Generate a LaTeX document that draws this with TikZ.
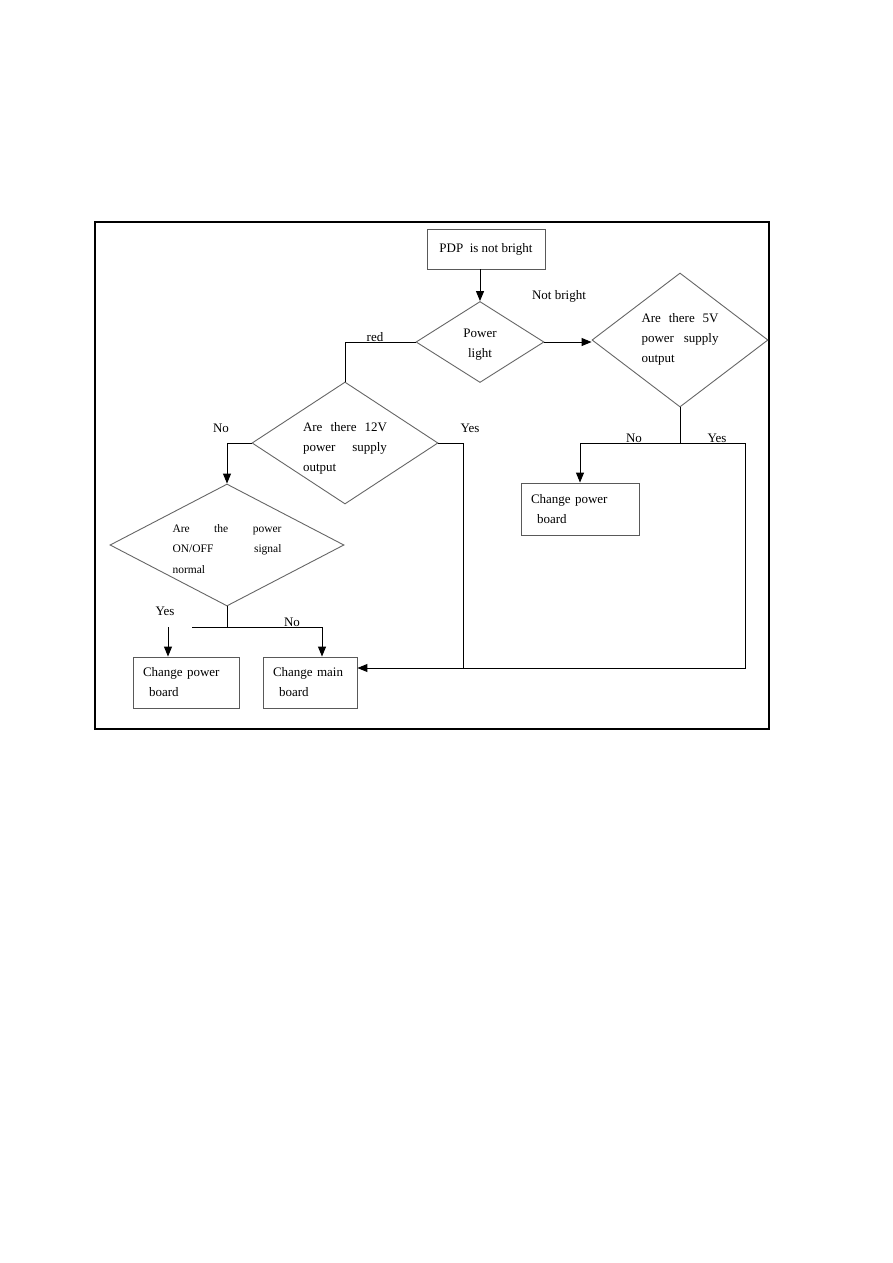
\documentclass[tikz,border=0pt]{standalone}
\usepackage{fontspec}
\setmainfont{Liberation Serif}
\usetikzlibrary{shapes.geometric,arrows.meta}
\begin{document}
\begin{tikzpicture}[x=1pt,y=-1pt,
  txt/.style={font=\fontsize{13}{20}\selectfont, inner sep=0pt},
  smalltxt/.style={font=\fontsize{11.5}{20.5}\selectfont, inner sep=0pt, align=left},
  boxnode/.style={draw=black!65, line width=0.9pt, rectangle, inner ysep=0pt,
     align=left, font=\fontsize{13}{20}\selectfont},
  dia/.style={draw=black!60, line width=0.9pt, diamond, inner sep=0pt},
  conn/.style={draw=black, line width=1pt},
  arr/.style={conn, -{Triangle[length=10pt,width=8pt]}},
  lbl/.style={font=\fontsize{13}{15}\selectfont, inner sep=0pt}
]
\useasboundingbox (0,0) rectangle (893,1263);
\fill[white] (0,0) rectangle (893,1263);
% frame
\draw[line width=1.1pt] (95,222) rectangle (769,729);

% nodes
\node[boxnode, minimum width=118pt, minimum height=40pt, align=center] (pdp) at (486,249) {PDP\ \ is not bright};
\node[dia, minimum width=128pt, minimum height=81pt] (pl) at (480,342) {};
\node[txt, align=center] at (480,345) {Power\\light};
\node[dia, minimum width=176pt, minimum height=134pt] (d5) at (680,340) {};
\node[txt, align=left] at (680,339) {\makebox[77pt][s]{Are there 5V}\\\makebox[77pt][s]{power supply}\\output};
\node[dia, minimum width=186pt, minimum height=122pt] (d12) at (345,443) {};
\node[txt, align=left] at (345,448) {\makebox[84pt][s]{Are there 12V}\\\makebox[84pt][s]{power supply}\\output};
\node[dia, minimum width=234pt, minimum height=122pt] (d3) at (227,545) {};
\node[smalltxt] at (227,549) {\makebox[109pt][s]{Are the power}\\\makebox[109pt][s]{ON/OFF signal}\\normal};

\node[boxnode, minimum height=52pt, inner xsep=10pt, text width=98pt] (b1) at (580,509) {Change power\\\hspace*{6pt}board};
\node[boxnode, minimum height=51pt, inner xsep=10pt, text width=86pt] (b3) at (186,682.5) {Change power\\\hspace*{6pt}board};
\node[boxnode, minimum height=51pt, inner xsep=10pt, text width=74pt] (b4) at (310,682.5) {Change main\\\hspace*{6pt}board};

% coordinates
\coordinate (c5) at (680,443);
\coordinate (j1) at (463,668);
\coordinate (j2) at (745,668);
\coordinate (c3) at (227,627);
\coordinate (c3l) at (192,627);
\coordinate (c3r) at (322,627);
\coordinate (y1) at (168,627);

% connectors
\draw[arr] (pl.north |- pdp.south) -- (pl.north);
\draw[arr] (pl.east) -- (pl.east -| d5.west);
\draw[conn] (pl.west) -| (d12.north);
\draw[arr] (d12.west) -| (d3.north);
\draw[conn] (d12.east) -| (j1);
\draw[conn] (d5.south) -- (c5);
\draw[arr] (c5) -| (b1.north);
\draw[arr] (c5) -| (j2) -- (j2 -| b4.east);
\draw[conn] (d3.south) -- (c3);
\draw[conn] (c3l) -- (c3r);
\draw[arr] (c3r) -- (c3r |- b4.north);
\draw[arr] (y1) -- (y1 |- b3.north);

% labels
\node[lbl] at (559,296) {Not bright};
\node[lbl, anchor=base] at (375,341) {red};
\node[lbl] at (221,428) {No};
\node[lbl] at (470,428) {Yes};
\node[lbl, anchor=base] at (634,442) {No};
\node[lbl, anchor=base] at (717,442) {Yes};
\node[lbl] at (165,611) {Yes};
\node[lbl, anchor=base] at (292,626) {No};
\end{tikzpicture}
\end{document}
